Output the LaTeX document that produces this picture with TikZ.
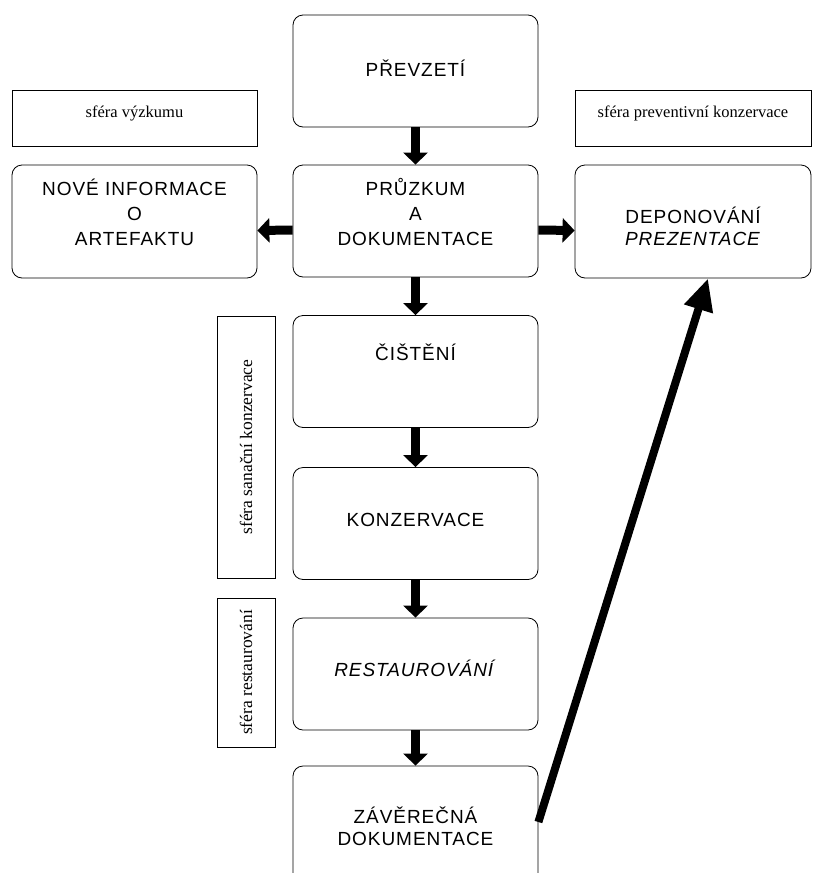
\documentclass[tikz,border=0pt]{standalone}
\usepackage{fontspec}
\setmainfont{Liberation Sans}[LetterSpace=5]
\newfontfamily\tnr{Liberation Serif}
\usetikzlibrary{arrows.meta,calc}
\begin{document}
\begin{tikzpicture}[x=1pt,y=1pt,
  box/.style={draw, rounded corners=10pt, line width=0.8pt, minimum width=245pt, minimum height=112pt, inner sep=0pt},
  txt/.style={align=center, inner sep=0pt, font=\fontsize{19}{25}\selectfont},
  lab/.style={draw, line width=0.8pt, inner sep=0pt},
  labtxt/.style={inner sep=0pt, font=\tnr\fontsize{16.5}{19}\selectfont},
  fat/.style={line width=9pt, -{Triangle[width=24pt,length=12pt]}},
  big/.style={line width=8pt, -{Triangle[width=28pt,length=32pt]}}]
\useasboundingbox (0,0) rectangle (812,-873);
% main column
\node[box] (prev) at (415.5,-71) {};
\node[box] (pruz) at (415.5,-221) {};
\node[box] (cist) at (415.5,-371.5) {};
\node[box] (konz) at (415.5,-523.5) {};
\node[box] (rest) at (415.5,-674) {};
\node[box, minimum height=134pt] (zav) at (415.5,-833) {};
\node[txt] (prevT) at (415.5,-68) {PŘEVZETÍ};
\node[txt] (pruzT) at (415.5,-212) {PRŮZKUM\\A\\DOKUMENTACE};
\node[txt] (cistT) at (415.5,-352) {ČIŠTĚNÍ};
\node[txt] (konzT) at (415.5,-520) {KONZERVACE};
\node[txt] (restT) at (415.5,-668) {\textit{RESTAUROVÁNÍ}};
\node[txt] (zavT) at (415.5,-826) {ZÁVĚREČNÁ\\[-3pt]DOKUMENTACE};
% side boxes
\node[box, minimum height=113pt] (nove) at (134.5,-221.5) {};
\node[box, minimum width=236pt, minimum height=113pt] (dep) at (693,-221.5) {};
\node[txt] (noveT) at (134.5,-212) {NOVÉ INFORMACE\\O\\ARTEFAKTU};
\node[txt] (depT) at (693,-226) {DEPONOVÁNÍ\\[-3pt]\textit{PREZENTACE}};
% sphere labels
\node[lab, minimum width=245pt, minimum height=56pt] (vyzk) at (134.5,-118) {};
\node[lab, minimum width=236pt, minimum height=56pt] (prevk) at (693,-118) {};
\node[labtxt] (vyzkT) at (134.5,-113) {sféra výzkumu};
\node[labtxt] (prevkT) at (693,-113) {sféra preventivní konzervace};
\node[lab, rotate=90, minimum width=262pt, minimum height=58pt, font=\tnr\fontsize{17.5}{19}\selectfont] (san) at (246,-447) {sféra sanační konzervace};
\node[lab, rotate=90, minimum width=149pt, minimum height=58pt, font=\tnr\fontsize{17.5}{19}\selectfont] (resv) at (246,-672.5) {sféra restaurování};
% arrows
\draw[fat] (prev) -- (pruz);
\draw[fat] (pruz) -- (cist);
\draw[fat] (cist) -- (konz);
\draw[fat] (konz) -- (rest);
\draw[fat] (rest) -- (zav);
\draw[fat] ([yshift=-9pt]pruz.west) -- ([yshift=-9pt]nove.east);
\draw[fat] ([yshift=-9pt]pruz.east) -- ([yshift=-9pt]dep.west);
\draw[big] ([yshift=11pt]zav.east) -- ([xshift=15pt]dep.south);
\end{tikzpicture}
\end{document}
